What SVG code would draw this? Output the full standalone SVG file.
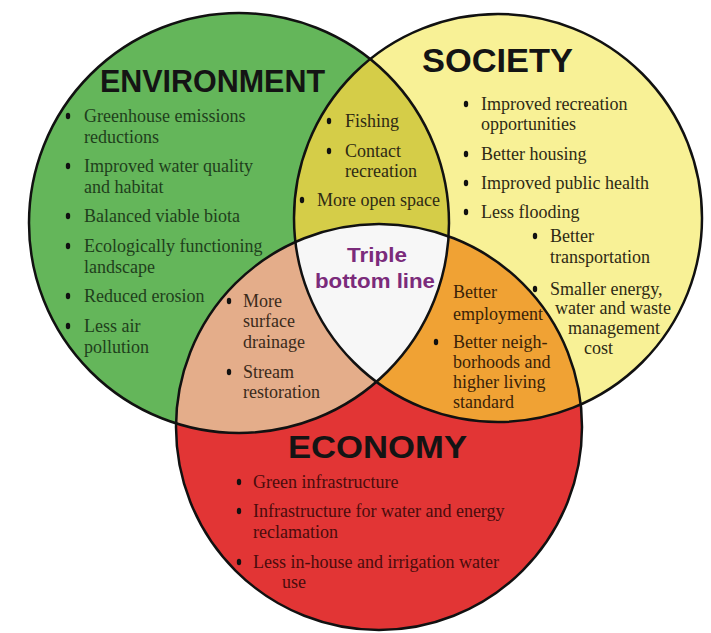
<svg xmlns="http://www.w3.org/2000/svg" width="711" height="633" viewBox="0 0 711 633">
<style>
.t{font-family:"Liberation Serif","Times New Roman",serif;font-size:18px}
.tg{fill:#1f3f1c}
.ty{fill:#2e2a14}
.tr{fill:#4a0c0c}
.tt{fill:#3a2a1a}
.to{fill:#3a2208}
.h{font-family:"Liberation Sans",Arial,sans-serif;font-weight:bold;fill:#141414}
.tb{font-family:"Liberation Sans",Arial,sans-serif;font-weight:bold;font-size:20px;fill:#7b2b7b}
.ol{fill:none;stroke:#111;stroke-width:2.5}
.b{fill:#111}
</style>
<defs>
<clipPath id="cG"><circle cx="239" cy="223" r="210"/></clipPath>
<clipPath id="cS"><circle cx="498" cy="218" r="204"/></clipPath>
<clipPath id="cE"><circle cx="379" cy="427" r="203"/></clipPath>
<ellipse id="bul" cx="0" cy="0" rx="2.2" ry="3.3"/>
</defs>
<rect width="711" height="633" fill="#ffffff"/>
<g id="fills">
<circle cx="239" cy="223" r="210" fill="#64b65a"/>
<circle cx="498" cy="218" r="204" fill="#f8f196"/>
<circle cx="379" cy="427" r="203" fill="#e23535"/>
<circle cx="498" cy="218" r="204" fill="#d5cd48" clip-path="url(#cG)"/>
<circle cx="379" cy="427" r="203" fill="#e4ad8a" clip-path="url(#cG)"/>
<circle cx="379" cy="427" r="203" fill="#f0a234" clip-path="url(#cS)"/>
<g clip-path="url(#cG)"><circle cx="379" cy="427" r="203" fill="#f7f7f7" clip-path="url(#cS)"/></g>
</g>
<g id="environment">
<circle class="ol" cx="239" cy="223" r="210"/>
<text class="h" x="100" y="92" font-size="31" textLength="225" lengthAdjust="spacingAndGlyphs">ENVIRONMENT</text>
<g class="b"><use href="#bul" x="68" y="116"/><use href="#bul" x="68" y="166"/><use href="#bul" x="68" y="216"/><use href="#bul" x="68" y="246"/><use href="#bul" x="68" y="296"/><use href="#bul" x="68" y="326"/></g>
<g class="t tg">
<text x="84" y="122">Greenhouse emissions</text>
<text x="84" y="143">reductions</text>
<text x="84" y="172">Improved water quality</text>
<text x="84" y="193">and habitat</text>
<text x="84" y="222">Balanced viable biota</text>
<text x="84" y="252">Ecologically functioning</text>
<text x="84" y="273">landscape</text>
<text x="84" y="302">Reduced erosion</text>
<text x="84" y="332">Less air</text>
<text x="84" y="353">pollution</text>
</g>
</g>
<g id="society">
<circle class="ol" cx="498" cy="218" r="204"/>
<text class="h" x="422" y="72" font-size="34" textLength="151" lengthAdjust="spacingAndGlyphs">SOCIETY</text>
<g class="b"><use href="#bul" x="466" y="104"/><use href="#bul" x="466" y="154"/><use href="#bul" x="466" y="183"/><use href="#bul" x="466" y="212"/><use href="#bul" x="535" y="236"/><use href="#bul" x="535" y="289"/></g>
<g class="t ty">
<text x="481" y="110">Improved recreation</text>
<text x="481" y="130">opportunities</text>
<text x="481" y="160">Better housing</text>
<text x="481" y="189">Improved public health</text>
<text x="481" y="218">Less flooding</text>
<text x="550" y="242">Better</text>
<text x="550" y="263">transportation</text>
<text x="550" y="295">Smaller energy,</text>
<text x="555" y="314">water and waste</text>
<text x="568" y="334">management</text>
<text x="584" y="354">cost</text>
</g>
</g>
<g id="economy">
<circle class="ol" cx="379" cy="427" r="203"/>
<text class="h" x="288" y="458" font-size="32" textLength="179" lengthAdjust="spacingAndGlyphs">ECONOMY</text>
<g class="b"><use href="#bul" x="239" y="482"/><use href="#bul" x="239" y="511"/><use href="#bul" x="239" y="562"/></g>
<g class="t tr">
<text x="253" y="488">Green infrastructure</text>
<text x="253" y="517">Infrastructure for water and energy</text>
<text x="253" y="538">reclamation</text>
<text x="253" y="568">Less in-house and irrigation water</text>
<text x="282" y="588">use</text>
</g>
</g>
<g id="env-society">
<g class="b"><use href="#bul" x="329" y="121"/><use href="#bul" x="329" y="151"/><use href="#bul" x="302" y="200"/></g>
<g class="t ty">
<text x="345" y="127">Fishing</text>
<text x="345" y="157">Contact</text>
<text x="345" y="177">recreation</text>
<text x="317" y="206">More open space</text>
</g>
</g>
<g id="env-economy">
<g class="b"><use href="#bul" x="229" y="301"/><use href="#bul" x="229" y="372"/></g>
<g class="t tt">
<text x="243" y="307">More</text>
<text x="243" y="327">surface</text>
<text x="243" y="348">drainage</text>
<text x="243" y="378">Stream</text>
<text x="243" y="398">restoration</text>
</g>
</g>
<g id="society-economy">
<g class="b"><use href="#bul" x="436" y="342"/></g>
<g class="t to">
<text x="453" y="298">Better</text>
<text x="453" y="320">employment</text>
<text x="453" y="348">Better neigh-</text>
<text x="453" y="368">borhoods and</text>
<text x="453" y="388">higher living</text>
<text x="453" y="408">standard</text>
</g>
</g>
<g id="triple-bottom-line">
<text class="tb" x="377" y="262" text-anchor="middle" textLength="60" lengthAdjust="spacingAndGlyphs">Triple</text>
<text class="tb" x="375" y="288" text-anchor="middle" textLength="120" lengthAdjust="spacingAndGlyphs">bottom line</text>
</g>
<g id="connectors"/>
</svg>
